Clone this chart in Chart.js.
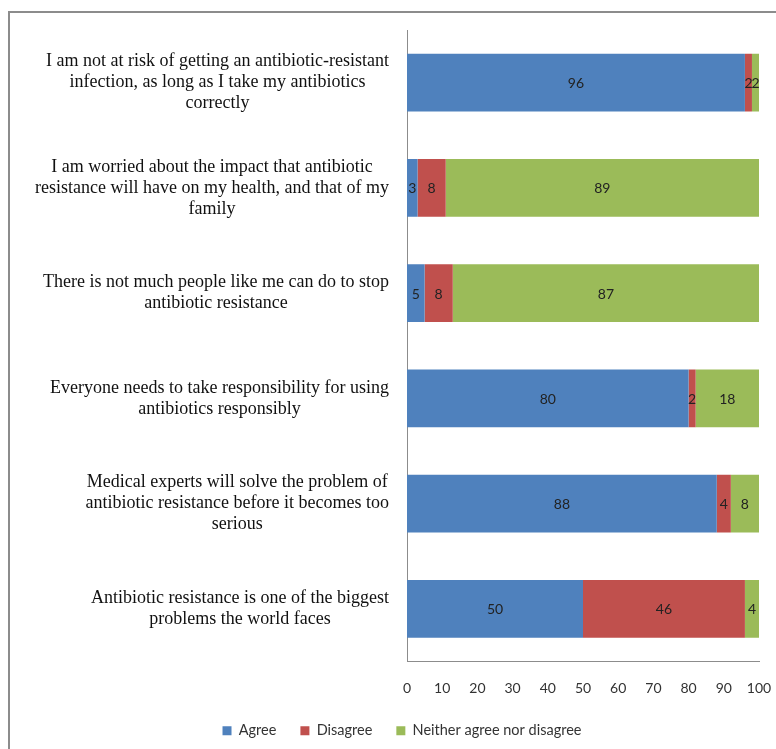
<!DOCTYPE html>
<html>
<head>
<meta charset="utf-8">
<script src="https://cdn.jsdelivr.net/npm/chart.js@4.4.1/dist/chart.umd.min.js"></script>
<style>
  html, body { margin: 0; padding: 0; background: #fff; overflow: hidden; }
  #wrap { position: relative; width: 776px; height: 749px; }
  #frame { position: absolute; left: 8px; top: 11px; width: 900px; height: 900px;
           border-left: 2px solid #8c8c8c; border-top: 2px solid #8c8c8c; pointer-events: none; }
  canvas { position: absolute; left: 0; top: 0; }
</style>
</head>
<body>
<div id="wrap">
  <canvas id="c" width="776" height="749"></canvas>
  <div id="frame"></div>
</div>
<script>
const categories = [
  ["I am not at risk of getting an antibiotic-resistant", "infection, as long as I take my antibiotics", "correctly"],
  ["I am worried about the impact that antibiotic", "resistance will have on my health, and that of my", "family"],
  ["There is not much people like me can do to stop", "antibiotic resistance"],
  ["Everyone needs to take responsibility for using", "antibiotics responsibly"],
  ["Medical experts will solve the problem of", "antibiotic resistance before it becomes too", "serious"],
  ["Antibiotic resistance is one of the biggest", "problems the world faces"]
];
const agree    = [96, 3, 5, 80, 88, 50];
const disagree = [2, 8, 8, 2, 4, 46];
const neither  = [2, 89, 87, 18, 8, 4];
const seriesNames = ["Agree", "Disagree", "Neither agree nor disagree"];
const xTicks = [0, 10, 20, 30, 40, 50, 60, 70, 80, 90, 100];

const COLORS = ["#4F81BD", "#C0504D", "#9BBB59"];

const dataLabelPlugin = {
  id: 'dataLabels',
  afterDatasetsDraw(chart) {
    const ctx = chart.ctx;
    ctx.save();
    ctx.font = '14px Lato, "Open Sans", sans-serif';
    ctx.fillStyle = '#222';
    ctx.textAlign = 'center';
    ctx.textBaseline = 'middle';
    chart.data.datasets.forEach((ds, di) => {
      const meta = chart.getDatasetMeta(di);
      meta.data.forEach((el, i) => {
        const v = ds.data[i];
        const p = el.getProps(['x', 'y', 'base'], true);
        ctx.fillText(String(v), (p.x + p.base) / 2, p.y + 1);
      });
    });
    ctx.restore();
  }
};

const yLabelPlugin = {
  id: 'yLabels',
  afterDraw(chart) {
    const ctx = chart.ctx;
    const ys = chart.scales.y;
    const right = chart.chartArea.left - 18;
    const lh = 21;
    ctx.save();
    ctx.font = '18px "Liberation Serif", "Times New Roman", serif';
    ctx.fillStyle = '#111';
    ctx.textAlign = 'center';
    ctx.textBaseline = 'middle';
    categories.forEach((lines, i) => {
      const yc = ys.getPixelForValue(i);
      let w = 0;
      lines.forEach(l => { w = Math.max(w, ctx.measureText(l).width); });
      const cx = right - w / 2;
      const y0 = yc - (lines.length - 1) * lh / 2;
      lines.forEach((l, k) => ctx.fillText(l, cx, y0 + k * lh));
    });
    ctx.restore();
  }
};

new Chart(document.getElementById('c'), {
  type: 'bar',
  data: {
    labels: categories.map((c, i) => i),
    datasets: [
      { label: seriesNames[0], data: agree, backgroundColor: COLORS[0] },
      { label: seriesNames[1], data: disagree, backgroundColor: COLORS[1] },
      { label: seriesNames[2], data: neither, backgroundColor: COLORS[2] }
    ]
  },
  options: {
    indexAxis: 'y',
    responsive: false,
    animation: false,
    devicePixelRatio: 1,
    layout: { padding: { top: 30, right: 17, left: 45, bottom: 1 } },
    datasets: { bar: { barPercentage: 0.55, categoryPercentage: 1.0 } },
    scales: {
      x: {
        stacked: true,
        min: 0, max: 100,
        afterBuildTicks(scale) { scale.ticks = xTicks.map(v => ({ value: v })); },
        grid: { display: false, drawTicks: false },
        border: { display: true, color: '#8c8c8c', width: 1 },
        ticks: {
          padding: 19,
          color: '#333',
          font: { family: 'Lato, "Open Sans", sans-serif', size: 14 },
          maxRotation: 0, autoSkip: false
        },
        afterFit(scale) { scale.height = 38; scale.paddingRight = 0; scale.paddingLeft = 0; }
      },
      y: {
        stacked: true,
        grid: { display: false, drawTicks: false },
        border: { display: true, color: '#8c8c8c', width: 1 },
        ticks: { display: false },
        afterFit(scale) { scale.width = 362; }
      }
    },
    plugins: {
      legend: {
        position: 'bottom',
        labels: {
          boxWidth: 9, boxHeight: 9, padding: 24,
          color: '#333',
          font: { family: 'Lato, "Open Sans", sans-serif', size: 14.5 }
        }
      },
      tooltip: { enabled: false }
    }
  },
  plugins: [dataLabelPlugin, yLabelPlugin]
});
</script>
</body>
</html>
